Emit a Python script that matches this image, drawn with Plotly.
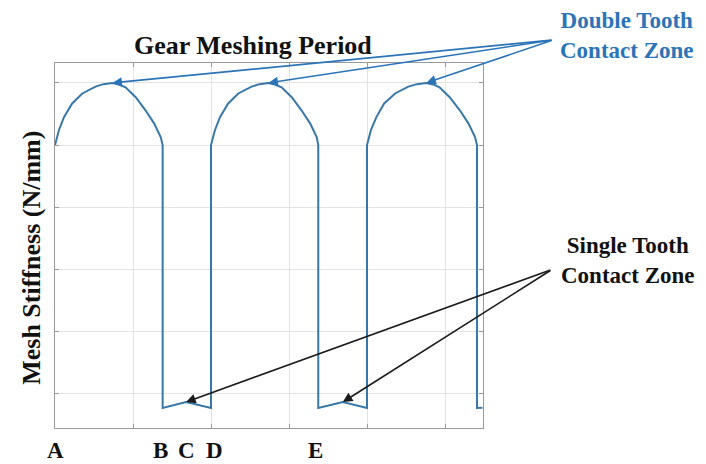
import plotly.graph_objects as go

# Mesh stiffness curve, x in gear-meshing units, y in stiffness units
stiffness_x = [0.00, 0.05, 0.115, 0.22, 0.35, 0.52, 0.62, 0.735, 0.82, 0.905, 1.035, 1.16, 1.27, 1.355, 1.38,
               1.38, 1.68, 2.00,
               2.00, 2.05, 2.115, 2.22, 2.35, 2.52, 2.62, 2.735, 2.82, 2.905, 3.035, 3.16, 3.27, 3.355, 3.375,
               3.375, 3.69, 4.00,
               4.00, 4.05, 4.12, 4.22, 4.36, 4.53, 4.64, 4.76, 4.85, 4.93, 5.06, 5.19, 5.30, 5.385, 5.41,
               5.41, 5.48]
stiffness_y = [5.00, 5.24, 5.45, 5.67, 5.83, 5.94, 5.98, 6.00, 5.975, 5.93, 5.77, 5.56, 5.35, 5.13, 5.00,
               0.775, 0.87, 0.775,
               5.00, 5.24, 5.45, 5.67, 5.83, 5.94, 5.98, 6.00, 5.975, 5.93, 5.77, 5.56, 5.35, 5.13, 5.00,
               0.775, 0.87, 0.775,
               5.00, 5.24, 5.45, 5.67, 5.83, 5.94, 5.98, 6.00, 5.975, 5.93, 5.77, 5.56, 5.35, 5.13, 5.00,
               0.775, 0.78]

grid_x = [1, 2, 3, 4, 5]
grid_y = [1, 2, 3, 4, 5, 6]

point_labels = ["A", "B", "C", "D", "E"]
point_x = [0.0, 1.35, 1.69, 2.04, 3.34]

double_heads_x = [0.735, 2.735, 4.76]
double_heads_y = [6.0, 6.0, 6.0]
double_tail = (6.385, 6.69)

single_heads_x = [1.68, 3.69]
single_heads_y = [0.87, 0.87]
single_tail = (6.37, 3.0)

serif = "Liberation Serif"
blue = "#2b74b8"
line_col = "#3878a8"
axis_col = "#9a9a9a"

fig = go.Figure()
fig.add_trace(go.Scatter(x=stiffness_x, y=stiffness_y, mode="lines",
                         line=dict(color=line_col, width=2), showlegend=False,
                         hoverinfo="skip"))

annotations = []
for hx, hy in zip(double_heads_x, double_heads_y):
    annotations.append(dict(x=hx, y=hy, xref="x", yref="y", ax=double_tail[0], ay=double_tail[1],
                            axref="x", ayref="y", text="", showarrow=True, arrowhead=2,
                            arrowsize=1.2, arrowwidth=1.6, arrowcolor=blue, standoff=0))
for hx, hy in zip(single_heads_x, single_heads_y):
    annotations.append(dict(x=hx, y=hy, xref="x", yref="y", ax=single_tail[0], ay=single_tail[1],
                            axref="x", ayref="y", text="", showarrow=True, arrowhead=2,
                            arrowsize=1.2, arrowwidth=1.6, arrowcolor="#1a1a1a", standoff=0))

for lab, lx in zip(point_labels, point_x):
    annotations.append(dict(x=lx, y=-0.061, xref="x", yref="paper", text=lab, showarrow=False,
                            xanchor="center", yanchor="middle",
                            font=dict(family=serif, size=23, color="#111111", weight="bold")))

annotations.append(dict(x=0.463, y=1.047, xref="paper", yref="paper", text="Gear Meshing Period",
                        showarrow=False, xanchor="center", yanchor="middle",
                        font=dict(family=serif, size=26, color="#111111", weight="bold")))
annotations.append(dict(x=-0.054, y=0.466, xref="paper", yref="paper", text="Mesh Stiffness (N/mm)",
                        showarrow=False, xanchor="center", yanchor="middle", textangle=-90,
                        font=dict(family=serif, size=26, color="#111111", weight="bold")))
annotations.append(dict(x=1.336, y=1.074, xref="paper", yref="paper",
                        text="Double Tooth<br>Contact Zone", showarrow=False,
                        xanchor="center", yanchor="middle", align="center", borderpad=0,
                        font=dict(family=serif, size=23, color=blue, weight="bold")))
annotations.append(dict(x=1.339, y=0.458, xref="paper", yref="paper",
                        text="Single Tooth<br>Contact Zone", showarrow=False,
                        xanchor="center", yanchor="middle", align="center",
                        font=dict(family=serif, size=23, color="#111111", weight="bold")))

# page body has an 8px margin, so the figure is sized to fit the window inside it
fig.update_layout(
    width=698, height=456,
    margin=dict(l=47, r=223, t=55, b=36),
    paper_bgcolor="white", plot_bgcolor="white",
    annotations=annotations,
    xaxis=dict(range=[0, 5.487], tickvals=grid_x, showticklabels=False, showgrid=True,
               gridcolor="#e3e3e3", gridwidth=1, zeroline=False, showline=True, linecolor=axis_col,
               linewidth=1, mirror="ticks", ticks="inside", ticklen=4, tickcolor=axis_col),
    yaxis=dict(range=[0.453, 6.32], tickvals=grid_y, showticklabels=False, showgrid=True,
               gridcolor="#e3e3e3", gridwidth=1, zeroline=False, showline=True, linecolor=axis_col,
               linewidth=1, mirror="ticks", ticks="inside", ticklen=4, tickcolor=axis_col),
)

fig.write_html("out.html")
